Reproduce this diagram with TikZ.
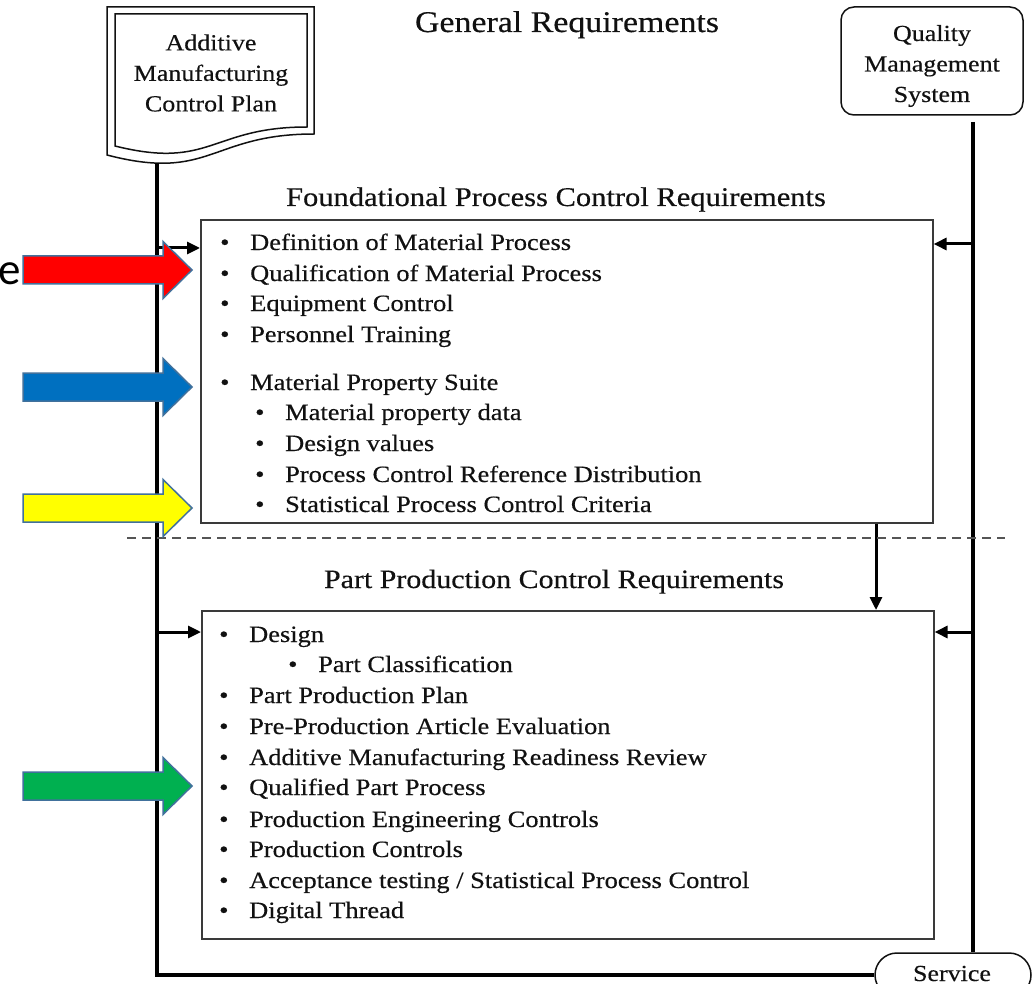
\documentclass[tikz,border=0pt]{standalone}
\usepackage{fontspec}
\setmainfont[FakeStretch=1.13, FakeBold=0.4]{Liberation Serif}
\newfontfamily\calibrilike{Carlito}
\usetikzlibrary{arrows.meta}

\definecolor{arrowedge}{HTML}{41719C}
\definecolor{arrowred}{HTML}{FF0000}
\definecolor{arrowblue}{HTML}{0070C0}
\definecolor{arrowyellow}{HTML}{FFFF00}
\definecolor{arrowgreen}{HTML}{00B050}
\definecolor{boxline}{HTML}{3A3A3A}
\definecolor{sepline}{HTML}{555555}
\definecolor{ink}{HTML}{111111}

\newcommand{\bul}{\makebox[30pt][l]{\textbullet}}

\tikzset{
  itemtext/.style={anchor=base west, inner sep=0pt, text=ink, font=\fontsize{23.4}{28}\selectfont},
  labeltext/.style={inner sep=0pt, align=center, text=ink, font=\fontsize{23}{30.5}\selectfont},
  titletext/.style={anchor=base, inner sep=0pt, text=ink},
  reqbox/.style={draw=boxline, line width=1.6pt, fill=white, inner sep=0pt, anchor=north west},
  docline/.style={draw=ink, line width=1.5pt},
  mainline/.style={draw=black, line width=3.5pt},
  feedarrow/.style={draw=black, line width=3pt, arrows={-Triangle[length=13pt, width=12pt]}},
  separator/.style={draw=sepline, line width=1.5pt, dash pattern=on 9pt off 6pt},
  pics/blockarrow/.style={code={
    \path[draw=arrowedge, line width=1.5pt, fill=#1]
      (0,-14) -- (140,-14) -- (140,-28.5) -- (169,0) -- (140,28.5) -- (140,14) -- (0,14) -- cycle;
  }}
}

\begin{document}
\begin{tikzpicture}[x=1pt, y=-1pt]
\useasboundingbox (0,0) rectangle (1033,984);
\clip (0,0) rectangle (1033,984);
\fill[white] (0,0) rectangle (1033,984);

% control plan: document shape with a double outline
\draw[docline] (107,7) -- (314,7) -- (314,134) .. controls (210.5,134) and (210.5,182) .. (107,155) -- cycle;
\draw[docline] (115,14) -- (307,14) -- (307,127) .. controls (211,127) and (211,170) .. (115,146) -- cycle;
\node[labeltext] (amcp) at (211,73) {Additive\\Manufacturing\\Control Plan};

% quality management system
\node[draw=ink, line width=1.5pt, rounded corners=13pt, minimum width=182pt, minimum height=108pt, inner sep=0pt] (qms) at (932,61) {};
\node[labeltext] (qmstext) at (932,66) {Quality\\Management\\System};

% service terminal
\node[draw=ink, line width=1.5pt, rounded corners=22pt, minimum width=156pt, minimum height=44pt, inner sep=0pt] (service) at (953,975) {};
\node[titletext, font=\fontsize{23}{28}\selectfont] (servicetext) at (952,981) {Service};

% titles
\node[titletext, font=\fontsize{30}{36}\selectfont] (general) at (567,32) {General Requirements};
\node[titletext, font=\fontsize{27}{32}\selectfont] (foundtitle) at (556,206) {Foundational Process Control Requirements};
\node[titletext, font=\fontsize{26.5}{32}\selectfont] (parttitle) at (554,588) {Part Production Control Requirements};

% requirement boxes
\node[reqbox, minimum width=732pt, minimum height=303pt] (box1) at (200,219) {};
\node[reqbox, minimum width=732pt, minimum height=328pt] (box2) at (201,610) {};

% main flow lines
\coordinate (amcpstem) at (157,163);
\coordinate (qmsstem) at (973,122);
\draw[mainline] (amcpstem) |- (service.west);
\draw[mainline] (qmsstem) -- (qmsstem |- service.north);

% feeds into the boxes
\coordinate (l1) at (157,248);
\coordinate (r1) at (973,244);
\coordinate (l2) at (157,632);
\coordinate (r2) at (973,632);
\draw[feedarrow] (l1) -- (l1 -| box1.west);
\draw[feedarrow] (r1) -- (r1 -| box1.east);
\draw[feedarrow] (l2) -- (l2 -| box2.west);
\draw[feedarrow] (r2) -- (r2 -| box2.east);
\coordinate (d1) at (876,522);
\draw[feedarrow] (d1 |- box1.south) -- (d1 |- box2.north);

% separator between the two stages
\coordinate (sepL) at (127,538);
\coordinate (sepR) at (1005,538);
\draw[separator] (sepL) -- (sepR);

% foundational items
\node[itemtext] (f1) at (220,250) {\bul Definition of Material Process};
\node[itemtext] (f2) at (220,281) {\bul Qualification of Material Process};
\node[itemtext] (f3) at (220,311) {\bul Equipment Control};
\node[itemtext] (f4) at (220,342) {\bul Personnel Training};
\node[itemtext] (f5) at (220,390) {\bul Material Property Suite};
\node[itemtext] (f6) at (255,420) {\bul Material property data};
\node[itemtext] (f7) at (255,451) {\bul Design values};
\node[itemtext] (f8) at (255,482) {\bul Process Control Reference Distribution};
\node[itemtext] (f9) at (255,512) {\bul Statistical Process Control Criteria};

% part production items
\node[itemtext] (p1) at (219,642) {\bul Design};
\node[itemtext] (p2) at (288,672) {\bul Part Classification};
\node[itemtext] (p3) at (219,703) {\bul Part Production Plan};
\node[itemtext] (p4) at (219,734) {\bul Pre-Production Article Evaluation};
\node[itemtext] (p5) at (219,765) {\bul Additive Manufacturing Readiness Review};
\node[itemtext] (p6) at (219,795) {\bul Qualified Part Process};
\node[itemtext] (p7) at (219,827) {\bul Production Engineering Controls};
\node[itemtext] (p8) at (219,857) {\bul Production Controls};
\node[itemtext] (p9) at (219,888) {\bul Acceptance testing / Statistical Process Control};
\node[itemtext] (p10) at (219,918) {\bul Digital Thread};

% highlight arrows
\node[anchor=base east, inner sep=0pt, font=\calibrilike\fontsize{45}{50}\selectfont] (eletter) at (21,285) {e};
\pic at (23,270) {blockarrow=arrowred};
\pic at (23,387) {blockarrow=arrowblue};
\pic at (23,508) {blockarrow=arrowyellow};
\pic at (23,786) {blockarrow=arrowgreen};
\end{tikzpicture}
\end{document}
